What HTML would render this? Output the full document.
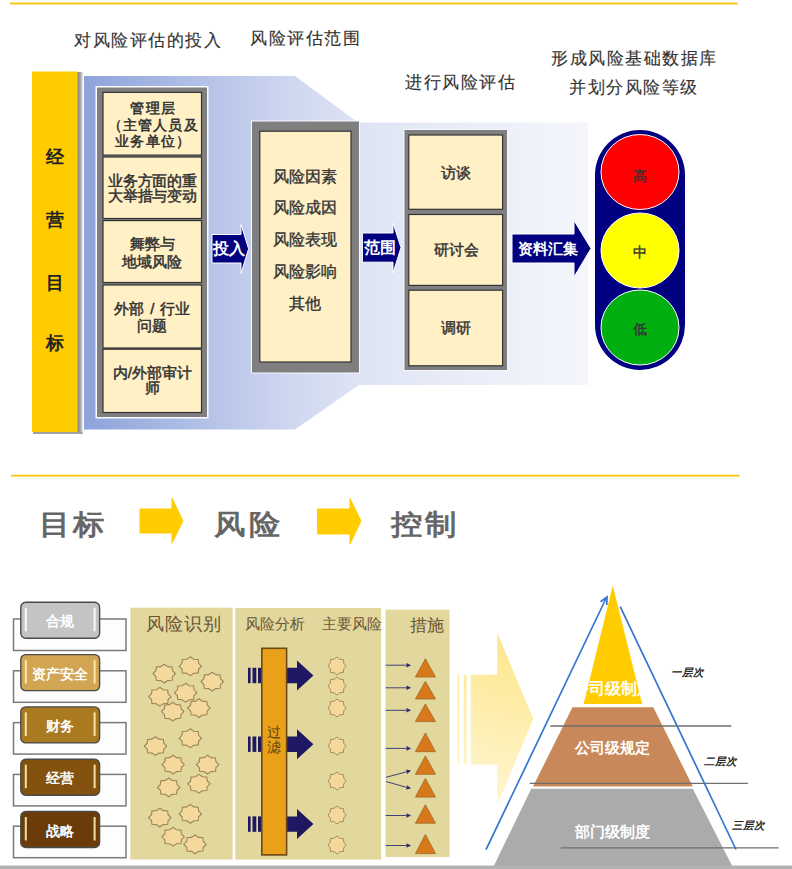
<!DOCTYPE html>
<html><head><meta charset="utf-8"><style>
html,body{margin:0;padding:0;background:#fff;}
body{width:792px;height:869px;position:relative;overflow:hidden;font-family:"Liberation Sans",sans-serif;}
svg{position:absolute;left:0;top:0;}
.s{position:absolute;white-space:nowrap;line-height:1;}
.sf{font-family:"Liberation Serif",serif;}
</style></head><body>
<svg width="792" height="869" viewBox="0 0 792 869">
<rect x="10" y="2.6" width="727.5" height="1.8" fill="#f7c400"/>
<rect x="11" y="474.8" width="728.5" height="1.7" fill="#f7c400"/>
<defs><linearGradient id="bg" gradientUnits="userSpaceOnUse" x1="84" y1="0" x2="588" y2="0"><stop offset="0" stop-color="#8da3da"/><stop offset="0.25" stop-color="#b6c3e8"/><stop offset="0.43" stop-color="#d1d9f1"/><stop offset="0.55" stop-color="#dee4f4"/><stop offset="0.75" stop-color="#eaedf8"/><stop offset="1" stop-color="#f5f6fc"/></linearGradient><linearGradient id="sh" x1="0" y1="0" x2="1" y2="0"><stop offset="0" stop-color="#7a7a7a"/><stop offset="1" stop-color="#d0d0d0"/></linearGradient><linearGradient id="ya" gradientUnits="userSpaceOnUse" x1="530" y1="640" x2="470" y2="800"><stop offset="0" stop-color="#fde37e"/><stop offset="1" stop-color="#fff6d0"/></linearGradient><clipPath id="tri"><polygon points="612.8,585.5 583.6,704 642.2,704"/></clipPath></defs>
<polygon points="84,76 295,76 358,122.5 588,122.5 588,385 359,385 295,429.5 84,429.5" fill="url(#bg)"/>
<rect x="32" y="71.5" width="45.5" height="360.5" fill="#ffcc00"/>
<rect x="77.5" y="72" width="5" height="362" fill="url(#sh)"/>
<rect x="33" y="432" width="49.5" height="2" fill="#a0a0a0"/>
<rect x="95.5" y="86" width="113" height="332.5" fill="#fafbff"/>
<rect x="97" y="87.5" width="110" height="329.5" fill="#7f7f7f"/>
<rect x="103" y="92.4" width="98.5" height="62.7" fill="#fff0c6" stroke="#333" stroke-width="1.2"/>
<rect x="103" y="157" width="98.5" height="61.5" fill="#fff0c6" stroke="#333" stroke-width="1.2"/>
<rect x="103" y="220.6" width="98.5" height="61.9" fill="#fff0c6" stroke="#333" stroke-width="1.2"/>
<rect x="103" y="285" width="98.5" height="63.0" fill="#fff0c6" stroke="#333" stroke-width="1.2"/>
<rect x="103" y="349.2" width="98.5" height="63.3" fill="#fff0c6" stroke="#333" stroke-width="1.2"/>
<polygon points="212,234.5 241,234.5 241,224.5 248.6,248.75 241,273.5 241,263 212,263" fill="#000080" stroke="#ffffff" stroke-width="1"/>
<rect x="251" y="120.5" width="109" height="253" fill="#fafbff"/>
<rect x="252" y="121.5" width="107" height="251" fill="#7f7f7f"/>
<rect x="259.8" y="131.2" width="91.2" height="230.8" fill="#fff0c6" stroke="#333" stroke-width="1.2"/>
<polygon points="362.4,233 393,233 393,223 401,247.6 393,273 393,262.2 362.4,262.2" fill="#000080" stroke="#ffffff" stroke-width="1"/>
<rect x="403.5" y="129" width="104.5" height="242" fill="#f6f7fc"/>
<rect x="404.5" y="130" width="102.5" height="240" fill="#7f7f7f"/>
<rect x="408.8" y="135" width="93.8" height="74.3" fill="#fff0c6" stroke="#333" stroke-width="1.2"/>
<rect x="408.8" y="214.5" width="93.8" height="70.9" fill="#fff0c6" stroke="#333" stroke-width="1.2"/>
<rect x="408.8" y="290.2" width="93.8" height="75.6" fill="#fff0c6" stroke="#333" stroke-width="1.2"/>
<polygon points="512,234 574,234 574,220.5 591,248.5 574,277 574,263 512,263" fill="#000080" stroke="#ffffff" stroke-width="1"/>
<rect x="595" y="130" width="90" height="240" rx="45" ry="45" fill="#000080"/>
<ellipse cx="640" cy="172" rx="39" ry="37.5" fill="#ff0000" stroke="#fff" stroke-width="1"/>
<ellipse cx="640" cy="250.5" rx="39" ry="37.5" fill="#ffff00" stroke="#fff" stroke-width="1"/>
<ellipse cx="640" cy="327.5" rx="39" ry="37.5" fill="#00b010" stroke="#fff" stroke-width="1"/>
<polygon points="140,509 172,509 172,498 183,521 172,543 172,533 140,533" fill="#ffcc00" stroke="#ffcc00" stroke-width="1" stroke-linejoin="round"/>
<polygon points="317.6,509 350,509 350,498.5 361,521 350,544 350,534 317.6,534" fill="#ffcc00" stroke="#ffcc00" stroke-width="1" stroke-linejoin="round"/>
<rect x="13.5" y="619.0" width="112.5" height="31.5" fill="#fdfdfd" stroke="#7a7a7a" stroke-width="1.5"/>
<rect x="13.5" y="670.8" width="112.5" height="31.5" fill="#fdfdfd" stroke="#7a7a7a" stroke-width="1.5"/>
<rect x="13.5" y="722.6" width="112.5" height="31.5" fill="#fdfdfd" stroke="#7a7a7a" stroke-width="1.5"/>
<rect x="13.5" y="774.4" width="112.5" height="31.5" fill="#fdfdfd" stroke="#7a7a7a" stroke-width="1.5"/>
<rect x="13.5" y="826.2" width="112.5" height="31.5" fill="#fdfdfd" stroke="#7a7a7a" stroke-width="1.5"/>
<rect x="20.8" y="602.3" width="78.8" height="36" rx="5" ry="5" fill="#c4c4c4" stroke="#4a4a4a" stroke-width="1.4"/>
<rect x="24.8" y="607.8" width="2" height="23.5" fill="#ffffff" opacity="0.9"/>
<rect x="93.6" y="607.8" width="2" height="23.5" fill="#ffffff" opacity="0.9"/>
<rect x="20.8" y="654.6" width="78.8" height="36" rx="5" ry="5" fill="#d2a553" stroke="#4a4a4a" stroke-width="1.4"/>
<rect x="24.8" y="660.1" width="2" height="23.5" fill="#fff2b8" opacity="0.9"/>
<rect x="93.6" y="660.1" width="2" height="23.5" fill="#fff2b8" opacity="0.9"/>
<rect x="20.8" y="706.9" width="78.8" height="36" rx="5" ry="5" fill="#a97a20" stroke="#4a4a4a" stroke-width="1.4"/>
<rect x="24.8" y="712.4" width="2" height="23.5" fill="#fff2b8" opacity="0.9"/>
<rect x="93.6" y="712.4" width="2" height="23.5" fill="#fff2b8" opacity="0.9"/>
<rect x="20.8" y="759.2" width="78.8" height="36" rx="5" ry="5" fill="#83520f" stroke="#4a4a4a" stroke-width="1.4"/>
<rect x="24.8" y="764.7" width="2" height="23.5" fill="#fff2b8" opacity="0.9"/>
<rect x="93.6" y="764.7" width="2" height="23.5" fill="#fff2b8" opacity="0.9"/>
<rect x="20.8" y="811.5" width="78.8" height="36" rx="5" ry="5" fill="#6b3c0a" stroke="#4a4a4a" stroke-width="1.4"/>
<rect x="24.8" y="817.0" width="2" height="23.5" fill="#fff2b8" opacity="0.9"/>
<rect x="93.6" y="817.0" width="2" height="23.5" fill="#fff2b8" opacity="0.9"/>
<rect x="130.3" y="607.7" width="102.3" height="251.8" fill="#e2d79d"/>
<rect x="235.3" y="608" width="145.8" height="251.6" fill="#e2d79d"/>
<rect x="385.6" y="609.7" width="63.9" height="247.3" fill="#e2d79d"/>
<polygon points="164.2,664.2 167.6,666.6 172.1,666.9 172.5,670.7 175.4,673.6 172.5,676.5 172.1,680.3 167.6,680.6 164.2,683.0 160.8,680.6 156.3,680.3 155.9,676.5 153.0,673.6 155.9,670.7 156.3,666.9 160.8,666.6" fill="#f5d89c" stroke="#9c8658" stroke-width="1.1"/>
<polygon points="190.3,656.8 193.7,659.2 198.2,659.5 198.6,663.3 201.5,666.2 198.6,669.1 198.2,672.9 193.7,673.2 190.3,675.6 186.9,673.2 182.4,672.9 182.0,669.1 179.1,666.2 182.0,663.3 182.4,659.5 186.9,659.2" fill="#f5d89c" stroke="#9c8658" stroke-width="1.1"/>
<polygon points="212.2,672.2 215.6,674.6 220.1,674.9 220.5,678.7 223.4,681.6 220.5,684.5 220.1,688.3 215.6,688.6 212.2,691.0 208.8,688.6 204.3,688.3 203.9,684.5 201.0,681.6 203.9,678.7 204.3,674.9 208.8,674.6" fill="#f5d89c" stroke="#9c8658" stroke-width="1.1"/>
<polygon points="159.8,687.3 163.2,689.7 167.7,690.0 168.1,693.8 171.0,696.7 168.1,699.6 167.7,703.4 163.2,703.7 159.8,706.1 156.4,703.7 151.9,703.4 151.5,699.6 148.6,696.7 151.5,693.8 151.9,690.0 156.4,689.7" fill="#f5d89c" stroke="#9c8658" stroke-width="1.1"/>
<polygon points="185.7,683.3 189.1,685.7 193.6,686.0 194.0,689.8 196.9,692.7 194.0,695.6 193.6,699.4 189.1,699.7 185.7,702.1 182.3,699.7 177.8,699.4 177.4,695.6 174.5,692.7 177.4,689.8 177.8,686.0 182.3,685.7" fill="#f5d89c" stroke="#9c8658" stroke-width="1.1"/>
<polygon points="198.9,698.7 202.3,701.1 206.8,701.4 207.2,705.2 210.1,708.1 207.2,711.0 206.8,714.8 202.3,715.1 198.9,717.5 195.5,715.1 191.0,714.8 190.6,711.0 187.7,708.1 190.6,705.2 191.0,701.4 195.5,701.1" fill="#f5d89c" stroke="#9c8658" stroke-width="1.1"/>
<polygon points="172.7,702.2 176.1,704.6 180.6,704.9 181.0,708.7 183.9,711.6 181.0,714.5 180.6,718.3 176.1,718.6 172.7,721.0 169.3,718.6 164.8,718.3 164.4,714.5 161.5,711.6 164.4,708.7 164.8,704.9 169.3,704.6" fill="#f5d89c" stroke="#9c8658" stroke-width="1.1"/>
<polygon points="190.3,728.8 193.7,731.2 198.2,731.5 198.6,735.3 201.5,738.2 198.6,741.1 198.2,744.9 193.7,745.2 190.3,747.6 186.9,745.2 182.4,744.9 182.0,741.1 179.1,738.2 182.0,735.3 182.4,731.5 186.9,731.2" fill="#f5d89c" stroke="#9c8658" stroke-width="1.1"/>
<polygon points="155.5,736.7 158.9,739.1 163.4,739.4 163.8,743.2 166.7,746.1 163.8,749.0 163.4,752.8 158.9,753.1 155.5,755.5 152.1,753.1 147.6,752.8 147.2,749.0 144.3,746.1 147.2,743.2 147.6,739.4 152.1,739.1" fill="#f5d89c" stroke="#9c8658" stroke-width="1.1"/>
<polygon points="173.1,755.2 176.5,757.6 181.0,757.9 181.4,761.7 184.3,764.6 181.4,767.5 181.0,771.3 176.5,771.6 173.1,774.0 169.7,771.6 165.2,771.3 164.8,767.5 161.9,764.6 164.8,761.7 165.2,757.9 169.7,757.6" fill="#f5d89c" stroke="#9c8658" stroke-width="1.1"/>
<polygon points="207.6,755.2 211.0,757.6 215.5,757.9 215.9,761.7 218.8,764.6 215.9,767.5 215.5,771.3 211.0,771.6 207.6,774.0 204.2,771.6 199.7,771.3 199.3,767.5 196.4,764.6 199.3,761.7 199.7,757.9 204.2,757.6" fill="#f5d89c" stroke="#9c8658" stroke-width="1.1"/>
<polygon points="168.7,778.0 172.1,780.4 176.6,780.7 177.0,784.5 179.9,787.4 177.0,790.3 176.6,794.1 172.1,794.4 168.7,796.8 165.3,794.4 160.8,794.1 160.4,790.3 157.5,787.4 160.4,784.5 160.8,780.7 165.3,780.4" fill="#f5d89c" stroke="#9c8658" stroke-width="1.1"/>
<polygon points="198.9,774.4 202.3,776.8 206.8,777.1 207.2,780.9 210.1,783.8 207.2,786.7 206.8,790.5 202.3,790.8 198.9,793.2 195.5,790.8 191.0,790.5 190.6,786.7 187.7,783.8 190.6,780.9 191.0,777.1 195.5,776.8" fill="#f5d89c" stroke="#9c8658" stroke-width="1.1"/>
<polygon points="159.8,808.2 163.2,810.6 167.7,810.9 168.1,814.7 171.0,817.6 168.1,820.5 167.7,824.3 163.2,824.6 159.8,827.0 156.4,824.6 151.9,824.3 151.5,820.5 148.6,817.6 151.5,814.7 151.9,810.9 156.4,810.6" fill="#f5d89c" stroke="#9c8658" stroke-width="1.1"/>
<polygon points="190.3,804.5 193.7,806.9 198.2,807.2 198.6,811.0 201.5,813.9 198.6,816.8 198.2,820.6 193.7,820.9 190.3,823.3 186.9,820.9 182.4,820.6 182.0,816.8 179.1,813.9 182.0,811.0 182.4,807.2 186.9,806.9" fill="#f5d89c" stroke="#9c8658" stroke-width="1.1"/>
<polygon points="173.1,827.4 176.5,829.8 181.0,830.1 181.4,833.9 184.3,836.8 181.4,839.7 181.0,843.5 176.5,843.8 173.1,846.2 169.7,843.8 165.2,843.5 164.8,839.7 161.9,836.8 164.8,833.9 165.2,830.1 169.7,829.8" fill="#f5d89c" stroke="#9c8658" stroke-width="1.1"/>
<polygon points="195.0,835.0 198.4,837.4 202.9,837.7 203.3,841.5 206.2,844.4 203.3,847.3 202.9,851.1 198.4,851.4 195.0,853.8 191.6,851.4 187.1,851.1 186.7,847.3 183.8,844.4 186.7,841.5 187.1,837.7 191.6,837.4" fill="#f5d89c" stroke="#9c8658" stroke-width="1.1"/>
<polygon points="337.0,657.0 339.8,659.2 343.4,659.6 343.8,663.2 346.0,666.0 343.8,668.8 343.4,672.4 339.8,672.8 337.0,675.0 334.2,672.8 330.6,672.4 330.2,668.8 328.0,666.0 330.2,663.2 330.6,659.6 334.2,659.2" fill="#f5d89c" stroke="#9c8658" stroke-width="0.9"/>
<polygon points="337.0,677.0 339.8,679.2 343.4,679.6 343.8,683.2 346.0,686.0 343.8,688.8 343.4,692.4 339.8,692.8 337.0,695.0 334.2,692.8 330.6,692.4 330.2,688.8 328.0,686.0 330.2,683.2 330.6,679.6 334.2,679.2" fill="#f5d89c" stroke="#9c8658" stroke-width="0.9"/>
<polygon points="337.0,699.0 339.8,701.2 343.4,701.6 343.8,705.2 346.0,708.0 343.8,710.8 343.4,714.4 339.8,714.8 337.0,717.0 334.2,714.8 330.6,714.4 330.2,710.8 328.0,708.0 330.2,705.2 330.6,701.6 334.2,701.2" fill="#f5d89c" stroke="#9c8658" stroke-width="0.9"/>
<polygon points="337.0,737.0 339.8,739.2 343.4,739.6 343.8,743.2 346.0,746.0 343.8,748.8 343.4,752.4 339.8,752.8 337.0,755.0 334.2,752.8 330.6,752.4 330.2,748.8 328.0,746.0 330.2,743.2 330.6,739.6 334.2,739.2" fill="#f5d89c" stroke="#9c8658" stroke-width="0.9"/>
<polygon points="337.0,772.0 339.8,774.2 343.4,774.6 343.8,778.2 346.0,781.0 343.8,783.8 343.4,787.4 339.8,787.8 337.0,790.0 334.2,787.8 330.6,787.4 330.2,783.8 328.0,781.0 330.2,778.2 330.6,774.6 334.2,774.2" fill="#f5d89c" stroke="#9c8658" stroke-width="0.9"/>
<polygon points="337.0,806.0 339.8,808.2 343.4,808.6 343.8,812.2 346.0,815.0 343.8,817.8 343.4,821.4 339.8,821.8 337.0,824.0 334.2,821.8 330.6,821.4 330.2,817.8 328.0,815.0 330.2,812.2 330.6,808.6 334.2,808.2" fill="#f5d89c" stroke="#9c8658" stroke-width="0.9"/>
<polygon points="337.0,836.0 339.8,838.2 343.4,838.6 343.8,842.2 346.0,845.0 343.8,847.8 343.4,851.4 339.8,851.8 337.0,854.0 334.2,851.8 330.6,851.4 330.2,847.8 328.0,845.0 330.2,842.2 330.6,838.6 334.2,838.2" fill="#f5d89c" stroke="#9c8658" stroke-width="0.9"/>
<polygon points="262,667.8 297,667.8 297,660.5 313.4,675.5 297,690.5 297,683.1999999999999 262,683.1999999999999" fill="#1e1862"/>
<rect x="248" y="667.8" width="2.6" height="15.4" fill="#1e1862"/>
<rect x="252.5" y="667.8" width="3.8" height="15.4" fill="#1e1862"/>
<rect x="258" y="667.8" width="4" height="15.4" fill="#1e1862"/>
<polygon points="262,736.5 297,736.5 297,729.2 313.4,744.2 297,759.2 297,751.9 262,751.9" fill="#1e1862"/>
<rect x="248" y="736.5" width="2.6" height="15.4" fill="#1e1862"/>
<rect x="252.5" y="736.5" width="3.8" height="15.4" fill="#1e1862"/>
<rect x="258" y="736.5" width="4" height="15.4" fill="#1e1862"/>
<polygon points="262,816.4 297,816.4 297,809.0999999999999 313.4,824.0999999999999 297,839.0999999999999 297,831.8 262,831.8" fill="#1e1862"/>
<rect x="248" y="816.4" width="2.6" height="15.4" fill="#1e1862"/>
<rect x="252.5" y="816.4" width="3.8" height="15.4" fill="#1e1862"/>
<rect x="258" y="816.4" width="4" height="15.4" fill="#1e1862"/>
<rect x="261.8" y="648.3" width="24.8" height="206.6" fill="#e9a11a" stroke="#6b4a12" stroke-width="1.6"/>
<polygon points="425.4,658.8 435.5,677 415.4,677" fill="#d9781a" stroke="#9a6a2a" stroke-width="0.8"/>
<polygon points="425.4,681.3 435.5,699 415.4,699" fill="#d9781a" stroke="#9a6a2a" stroke-width="0.8"/>
<polygon points="425.4,703.9 435.5,721.6 415.4,721.6" fill="#d9781a" stroke="#9a6a2a" stroke-width="0.8"/>
<polygon points="425.4,733 435.5,751.7 415.4,751.7" fill="#d9781a" stroke="#9a6a2a" stroke-width="0.8"/>
<polygon points="425.4,755.9 435.5,774.3 415.4,774.3" fill="#d9781a" stroke="#9a6a2a" stroke-width="0.8"/>
<polygon points="425.4,778.4 435.5,797.1 415.4,797.1" fill="#d9781a" stroke="#9a6a2a" stroke-width="0.8"/>
<polygon points="425.4,804.8 435.5,823.2 415.4,823.2" fill="#d9781a" stroke="#9a6a2a" stroke-width="0.8"/>
<polygon points="425.4,834.4 435.5,853.6 415.4,853.6" fill="#d9781a" stroke="#9a6a2a" stroke-width="0.8"/>
<line x1="385.6" y1="665.2" x2="406.5" y2="665.2" stroke="#303078" stroke-width="0.9"/><polygon points="411,665.2 406.5,667.5 406.5,662.9" fill="#2a2a72"/>
<line x1="385.6" y1="687.8" x2="406.5" y2="687.8" stroke="#303078" stroke-width="0.9"/><polygon points="411,687.8 406.5,690.1 406.5,685.5" fill="#2a2a72"/>
<line x1="385.6" y1="710.3" x2="406.5" y2="710.3" stroke="#303078" stroke-width="0.9"/><polygon points="411,710.3 406.5,712.6 406.5,708.0" fill="#2a2a72"/>
<line x1="385.6" y1="748.4" x2="406.5" y2="748.4" stroke="#303078" stroke-width="0.9"/><polygon points="411,748.4 406.5,750.7 406.5,746.1" fill="#2a2a72"/>
<line x1="385.6" y1="815.5" x2="406.5" y2="815.5" stroke="#303078" stroke-width="0.9"/><polygon points="411,815.5 406.5,817.8 406.5,813.2" fill="#2a2a72"/>
<line x1="385.6" y1="845.5" x2="406.5" y2="845.5" stroke="#303078" stroke-width="0.9"/><polygon points="411,845.5 406.5,847.8 406.5,843.2" fill="#2a2a72"/>
<line x1="386" y1="777.3" x2="406.7" y2="771.8" stroke="#303078" stroke-width="0.9"/><polygon points="411,770.6 407.2,774.0 406.1,769.5" fill="#2a2a72"/>
<line x1="386" y1="781.5" x2="406.7" y2="787.4" stroke="#303078" stroke-width="0.9"/><polygon points="411,788.6 406.0,789.6 407.3,785.2" fill="#2a2a72"/>
<g opacity="0.9"><rect x="457.5" y="674.8" width="1.6" height="89.7" fill="url(#ya)"/><rect x="463.6" y="674.8" width="3" height="89.7" fill="url(#ya)"/><polygon points="470.7,674.8 497.2,674.8 497.2,632.7 533.3,719 497.2,805.3 497.2,764.5 470.7,764.5" fill="url(#ya)"/></g>
<polygon points="612.8,585.5 583.6,704 642.2,704" fill="#ffcc00"/>
<polygon points="572.5,707.2 653.3,707.2 692.8,786.6 533,786.6" fill="#c8885a"/>
<polygon points="531.2,788.7 692.8,788.7 732.2,866 493.8,866" fill="#ababab"/>
<line x1="550.3" y1="726" x2="731.4" y2="726" stroke="#6e6e6e" stroke-width="1.3"/>
<line x1="529.7" y1="783.4" x2="748" y2="783.4" stroke="#6e6e6e" stroke-width="1.3"/>
<line x1="560.8" y1="847.8" x2="778.7" y2="847.8" stroke="#6e6e6e" stroke-width="1.3"/>
<line x1="486" y1="849.7" x2="606" y2="598.5" stroke="#3276d0" stroke-width="1.7"/>
<polyline points="600.5,601.8 607,597 606.8,605" fill="none" stroke="#3276d0" stroke-width="1.7"/>
<line x1="620.2" y1="606.7" x2="736" y2="849.5" stroke="#3276d0" stroke-width="1.7"/>
<rect x="0" y="865.5" width="792" height="3.5" fill="#b2b2b2"/>
</svg>
<div class="s" style="left:74px;top:32px;font-size:17px;color:#333;font-weight:normal;letter-spacing:1.5px;-webkit-text-stroke:0.15px #333;">对风险评估的投入</div>
<div class="s" style="left:250px;top:30px;font-size:17px;color:#333;font-weight:normal;letter-spacing:1.5px;-webkit-text-stroke:0.15px #333;">风险评估范围</div>
<div class="s" style="left:405px;top:74px;font-size:17px;color:#333;font-weight:normal;letter-spacing:1.5px;-webkit-text-stroke:0.15px #333;">进行风险评估</div>
<div class="s" style="left:551px;top:50px;font-size:17px;color:#333;font-weight:normal;letter-spacing:1.5px;-webkit-text-stroke:0.15px #333;">形成风险基础数据库</div>
<div class="s" style="left:569px;top:79px;font-size:17px;color:#333;font-weight:normal;letter-spacing:1.5px;-webkit-text-stroke:0.15px #333;">并划分风险等级</div>
<div class="s" style="left:32px;top:147.5px;font-size:18px;color:#222;font-weight:bold;width:45.5px;text-align:center;">经</div>
<div class="s" style="left:32px;top:210.5px;font-size:18px;color:#222;font-weight:bold;width:45.5px;text-align:center;">营</div>
<div class="s" style="left:32px;top:274px;font-size:18px;color:#222;font-weight:bold;width:45.5px;text-align:center;">目</div>
<div class="s" style="left:32px;top:333.5px;font-size:18px;color:#222;font-weight:bold;width:45.5px;text-align:center;">标</div>
<div class="s" style="left:104px;top:100px;font-size:14px;color:#333;font-weight:normal;width:98.5px;text-align:center;line-height:16.5px;letter-spacing:1.2px;-webkit-text-stroke:0.55px #333;">管理层<br>（主管人员及<br>业务单位）</div>
<div class="s" style="left:103px;top:174px;font-size:15px;color:#333;font-weight:normal;width:98.5px;text-align:center;line-height:14.5px;letter-spacing:-0.3px;-webkit-text-stroke:0.5px #333;">业务方面的重<br>大举措与变动</div>
<div class="s" style="left:103px;top:235px;font-size:15px;color:#333;font-weight:normal;width:98.5px;text-align:center;line-height:17.5px;-webkit-text-stroke:0.5px #333;">舞弊与<br>地域风险</div>
<div class="s" style="left:103px;top:299.5px;font-size:15px;color:#333;font-weight:normal;width:98.5px;text-align:center;line-height:17.5px;word-spacing:1.5px;-webkit-text-stroke:0.5px #333;">外部 / 行业<br>问题</div>
<div class="s" style="left:103px;top:365px;font-size:15px;color:#333;font-weight:normal;width:98.5px;text-align:center;line-height:15px;-webkit-text-stroke:0.5px #333;">内/外部审计<br>师</div>
<div class="s" style="left:212px;top:240.5px;font-size:16px;color:#fff;font-weight:bold;width:33px;text-align:center;">投入</div>
<div class="s" style="left:364px;top:239.5px;font-size:16px;color:#fff;font-weight:bold;width:31px;text-align:center;">范围</div>
<div class="s" style="left:516.5px;top:240.5px;font-size:15px;color:#fff;font-weight:bold;width:62.5px;text-align:center;">资料汇集</div>
<div class="s" style="left:259px;top:160.5px;font-size:15.5px;color:#333;font-weight:normal;width:91px;text-align:center;line-height:31.8px;-webkit-text-stroke:0.35px #333;">风险因素<br>风险成因<br>风险表现<br>风险影响<br>其他</div>
<div class="s" style="left:409px;top:165px;font-size:15px;color:#333;font-weight:normal;width:94px;text-align:center;-webkit-text-stroke:0.45px #333;">访谈</div>
<div class="s" style="left:409px;top:242px;font-size:15px;color:#333;font-weight:normal;width:94px;text-align:center;-webkit-text-stroke:0.45px #333;">研讨会</div>
<div class="s" style="left:409px;top:320px;font-size:15px;color:#333;font-weight:normal;width:94px;text-align:center;-webkit-text-stroke:0.45px #333;">调研</div>
<div class="s" style="left:600px;top:168.5px;font-size:14px;color:#333;font-weight:normal;width:80px;text-align:center;-webkit-text-stroke:0.4px #333;">高</div>
<div class="s" style="left:600px;top:244.5px;font-size:14px;color:#333;font-weight:normal;width:80px;text-align:center;-webkit-text-stroke:0.4px #333;">中</div>
<div class="s" style="left:600px;top:321.5px;font-size:14px;color:#333;font-weight:normal;width:80px;text-align:center;-webkit-text-stroke:0.4px #333;">低</div>
<div class="s" style="left:39px;top:511px;font-size:28px;color:#666;font-weight:bold;transform:scaleX(1.12);transform-origin:0 0;">目</div>
<div class="s" style="left:72.5px;top:511px;font-size:28px;color:#666;font-weight:bold;transform:scaleX(1.12);transform-origin:0 0;">标</div>
<div class="s" style="left:214px;top:511px;font-size:28px;color:#666;font-weight:bold;transform:scaleX(1.12);transform-origin:0 0;">风</div>
<div class="s" style="left:248.5px;top:511px;font-size:28px;color:#666;font-weight:bold;transform:scaleX(1.12);transform-origin:0 0;">险</div>
<div class="s" style="left:390.5px;top:511px;font-size:28px;color:#666;font-weight:bold;transform:scaleX(1.12);transform-origin:0 0;">控</div>
<div class="s" style="left:425px;top:511px;font-size:28px;color:#666;font-weight:bold;transform:scaleX(1.12);transform-origin:0 0;">制</div>
<div class="s" style="left:20.8px;top:614.3px;font-size:14px;color:#fff;font-weight:bold;width:78.8px;text-align:center;">合规</div>
<div class="s" style="left:20.8px;top:666.5999999999999px;font-size:14px;color:#fff;font-weight:bold;width:78.8px;text-align:center;">资产安全</div>
<div class="s" style="left:20.8px;top:718.9px;font-size:14px;color:#fff;font-weight:bold;width:78.8px;text-align:center;">财务</div>
<div class="s" style="left:20.8px;top:771.1999999999999px;font-size:14px;color:#fff;font-weight:bold;width:78.8px;text-align:center;">经营</div>
<div class="s" style="left:20.8px;top:823.5px;font-size:14px;color:#fff;font-weight:bold;width:78.8px;text-align:center;">战略</div>
<div class="s sf" style="left:146px;top:614.5px;font-size:18px;color:#6b5535;font-weight:normal;letter-spacing:1px;">风险识别</div>
<div class="s sf" style="left:245px;top:617px;font-size:15px;color:#6b5535;font-weight:normal;">风险分析</div>
<div class="s sf" style="left:322px;top:617px;font-size:15px;color:#6b5535;font-weight:normal;">主要风险</div>
<div class="s sf" style="left:410px;top:618px;font-size:16.5px;color:#6b5535;font-weight:normal;">措施</div>
<div class="s sf" style="left:262px;top:726px;font-size:14px;color:#5a3c10;font-weight:normal;width:24.8px;text-align:center;line-height:14.5px;">过<br>滤</div>
<div style="position:absolute;left:0;top:0;width:792px;height:869px;clip-path:polygon(612.8px 585.5px, 642.2px 704px, 583.6px 704px);"><div class="s" style="left:572px;top:681px;width:81px;text-align:center;font-size:16px;color:#fff;font-weight:bold;">公司级制度</div></div>
<div class="s" style="left:572px;top:739.5px;font-size:15px;color:#fff;font-weight:bold;width:81px;text-align:center;">公司级规定</div>
<div class="s" style="left:572px;top:823.5px;font-size:15px;color:#fff;font-weight:bold;width:81px;text-align:center;">部门级制度</div>
<div class="s" style="left:670.5px;top:667px;font-size:10.5px;color:#222;font-weight:bold;font-style:italic;">一层次</div>
<div class="s" style="left:703.5px;top:756px;font-size:10.5px;color:#222;font-weight:bold;font-style:italic;">二层次</div>
<div class="s" style="left:731.5px;top:820px;font-size:10.5px;color:#222;font-weight:bold;font-style:italic;">三层次</div>
</body></html>
